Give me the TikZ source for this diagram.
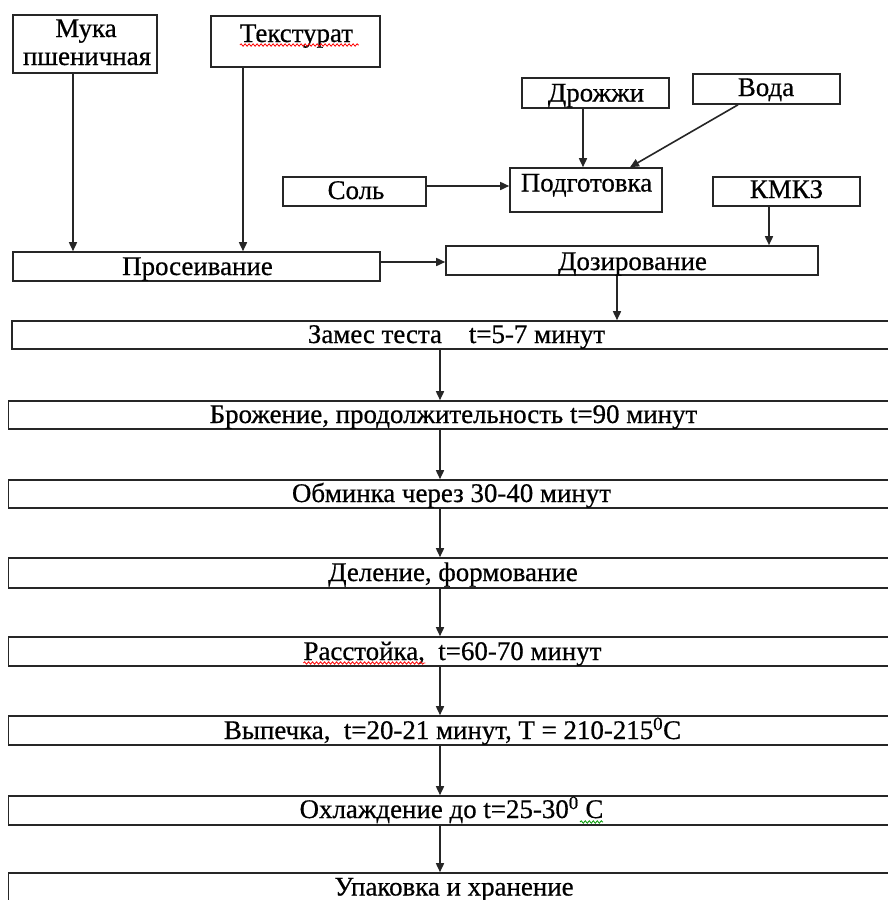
\documentclass[tikz,border=0pt]{standalone}
\usepackage{fontspec}
\setmainfont{Liberation Serif}[FakeBold=0.6]
\usetikzlibrary{arrows.meta,decorations.pathmorphing}
\begin{document}
\begin{tikzpicture}[x=1bp,y=-1bp,
  box/.style={draw=black!85, line width=1.6bp, inner sep=0pt},
  txt/.style={inner sep=0pt, anchor=base, font=\fontsize{27}{30}\selectfont},
  arr/.style={draw=black!85, line width=1.6bp, -{Triangle[length=9bp,width=8bp]}},
  wavy/.style={line width=0.8bp, decorate, decoration={snake, segment length=4bp, amplitude=1.2bp}}
]
\useasboundingbox (0,0) rectangle (888,900);
\fill[white] (0,0) rectangle (888,900);
\clip (0,0) rectangle (888,900);
% boxes
\newcommand{\bx}[5]{\node[box, minimum width={(#4-#2)*1bp}, minimum height={(#5-#3)*1bp}] (#1) at ({(#2+#4)/2},{(#3+#5)/2}) {};}
\bx{muka}{13}{15}{157}{73}
\bx{tex}{211}{16}{380}{67}
\bx{soil}{283}{177}{426}{206}
\bx{pros}{13}{252}{380}{281}
\bx{drozh}{522}{78}{669}{108}
\bx{voda}{693}{74}{840}{104}
\bx{podg}{510}{168}{662}{212}
\bx{kmkz}{713}{177}{860}{206}
\bx{doz}{446}{246}{818}{275}
\bx{zames}{12}{321}{898}{349}
\bx{brozh}{8.5}{401}{898}{429}
\bx{obm}{8.5}{480}{898}{508}
\bx{del}{8.5}{558}{898}{588}
\bx{rass}{8.5}{637}{898}{666}
\bx{vyp}{8.5}{716}{898}{745}
\bx{ohl}{8.5}{796}{898}{825}
\bx{upak}{8.5}{873}{898}{930}
% texts
\node[txt] (tmuka1) at (86,37) {Мука};
\node[txt] (tmuka2) at (87,65) {пшеничная};
\node[txt] (ttex) at (296.5,42) {Текстурат};
\node[txt] (tsoil) at (356,199) {Соль};
\node[txt] (tpros) at (197.5,275) {Просеивание};
\node[txt] (tdrozh) at (596,101.5) {Дрожжи};
\node[txt] (tvoda) at (766,96) {Вода};
\node[txt] (tpodg) at (586.5,191.5) {Подготовка};
\node[txt] (tkmkz) at (786.5,198) {КМКЗ};
\node[txt] (tdoz) at (632.5,270) {Дозирование};
\node[txt] (tzames) at (456.5,343) {Замес теста\ \ \ \ t=5-7 минут};
\node[txt] (tbrozh) at (453.5,423) {Брожение, продолжительность t=90 минут};
\node[txt] (tobm) at (451.5,502) {Обминка через 30-40 минут};
\node[txt] (tdel) at (453,581) {Деление, формование};
\node[txt] (trass) at (452.5,660) {Расстойка,\ \ t=60-70 минут};
\node[txt] (tvyp) at (452.5,739) {Выпечка,\ \ t=20-21 минут, T = 210-215\textsuperscript{0}С};
\node[txt] (tohl) at (451.5,818) {Охлаждение до t=25-30\textsuperscript{0} С};
\node[txt] (tupak) at (454,895.5) {Упаковка и хранение};
% spell-check underlines
\draw[wavy, red] (ttex.base west) ++(0,3) -- ++(119,0);
\draw[wavy, red] (trass.base west) ++(0,3) -- ++(122,0);
\draw[wavy, green!60!black] (580,822) -- (603,822);
% helper coordinates
\coordinate (x73) at (73,0);
\coordinate (x243) at (243,0);
\coordinate (x583) at (583,0);
\coordinate (x738) at (738,0);
\coordinate (x630) at (630,0);
\coordinate (x769) at (769,0);
\coordinate (x617) at (617,0);
\coordinate (x440) at (440,0);
\coordinate (y262) at (0,262);
\coordinate (y186) at (0,186);
% connectors
\draw[arr] (muka.south -| x73) -- (pros.north -| x73);
\draw[arr] (tex.south -| x243) -- (pros.north -| x243);
\draw[arr] (pros.east |- y262) -- (doz.west |- y262);
\draw[arr] (soil.east |- y186) -- (podg.west |- y186);
\draw[arr] (drozh.south -| x583) -- (podg.north -| x583);
\draw[arr] (voda.south -| x738) -- (podg.north -| x630);
\draw[arr] (kmkz.south -| x769) -- (doz.north -| x769);
\draw[arr] (doz.south -| x617) -- (zames.north -| x617);
\draw[arr] (zames.south -| x440) -- (brozh.north -| x440);
\draw[arr] (brozh.south -| x440) -- (obm.north -| x440);
\draw[arr] (obm.south -| x440) -- (del.north -| x440);
\draw[arr] (del.south -| x440) -- (rass.north -| x440);
\draw[arr] (rass.south -| x440) -- (vyp.north -| x440);
\draw[arr] (vyp.south -| x440) -- (ohl.north -| x440);
\draw[arr] (ohl.south -| x440) -- (upak.north -| x440);
\end{tikzpicture}
\end{document}
